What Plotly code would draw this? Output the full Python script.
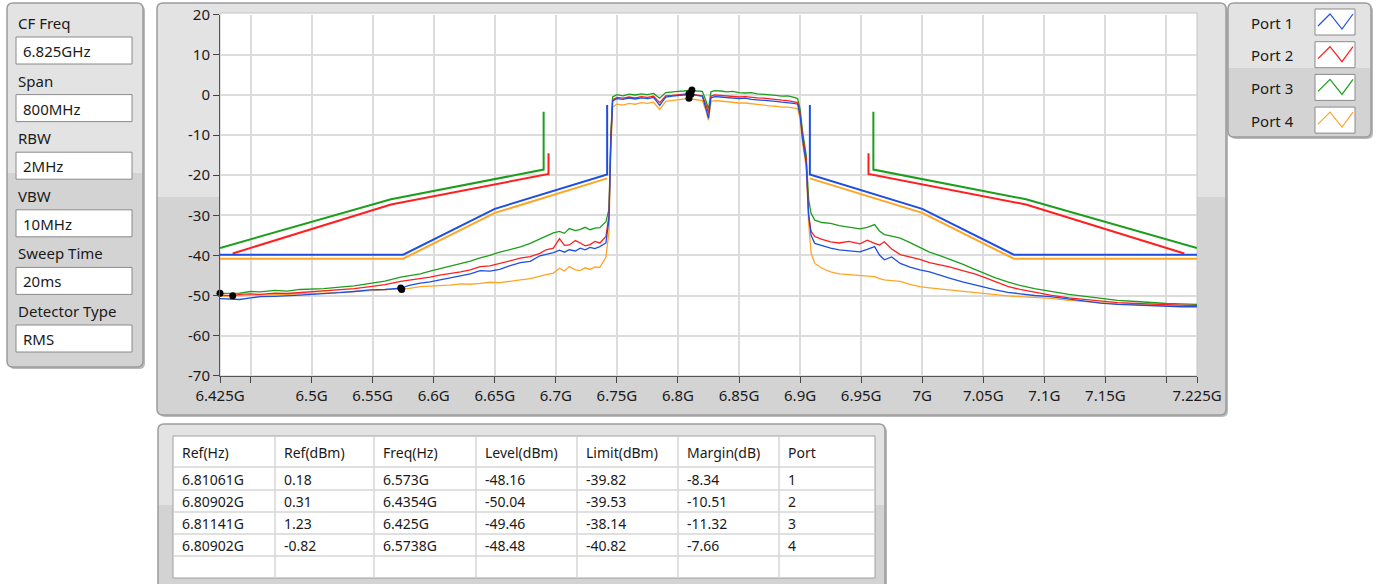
import plotly.graph_objects as go

W, H = 1376, 584

# ---------------- data ----------------
setting_names = ["CF Freq", "Span", "RBW", "VBW", "Sweep Time", "Detector Type"]
setting_values = ["6.825GHz", "800MHz", "2MHz", "10MHz", "20ms", "RMS"]

port_names = ["Port 1", "Port 2", "Port 3", "Port 4"]

x_tick_vals = [6.425, 6.45, 6.5, 6.55, 6.6, 6.65, 6.7, 6.75, 6.8, 6.85, 6.9,
               6.95, 7.0, 7.05, 7.1, 7.15, 7.2, 7.225]
x_tick_text = ["6.425G", "", "6.5G", "6.55G", "6.6G", "6.65G", "6.7G", "6.75G", "6.8G",
               "6.85G", "6.9G", "6.95G", "7G", "7.05G", "7.1G", "7.15G", "", "7.225G"]
y_tick_vals = [20, 10, 0, -10, -20, -30, -40, -50, -60, -70]
y_tick_text = ["20", "10", "0", "-10", "-20", "-30", "-40", "-50", "-60", "-70"]

# measured spectra (GHz / dBm), split in lower skirt, channel and upper skirt
left_freq = [6.425, 6.4354, 6.441, 6.45, 6.458, 6.47, 6.48, 6.4905, 6.50, 6.51, 6.523, 6.535,
             6.548, 6.56, 6.573, 6.58, 6.589, 6.597, 6.605, 6.613, 6.622, 6.63, 6.638, 6.646,
             6.654, 6.662, 6.671, 6.679, 6.687, 6.692, 6.698, 6.703, 6.707, 6.711, 6.716,
             6.720, 6.724, 6.728, 6.732, 6.736, 6.741, 6.7435, 6.745]
band_freq = [6.7465, 6.75, 6.755, 6.76, 6.765, 6.77, 6.775, 6.78, 6.785, 6.79, 6.795, 6.80,
             6.805, 6.809, 6.811, 6.815, 6.82, 6.823, 6.825, 6.827, 6.83, 6.835, 6.84, 6.845,
             6.85, 6.855, 6.86, 6.865, 6.87, 6.875, 6.88, 6.885, 6.89, 6.895, 6.898, 6.9,
             6.902, 6.905]
right_freq = [6.907, 6.909, 6.912, 6.918, 6.925, 6.932, 6.94, 6.949, 6.955, 6.961, 6.965,
              6.969, 6.975, 6.982, 6.99, 6.998, 7.006, 7.015, 7.023, 7.033, 7.043, 7.052,
              7.06, 7.07, 7.08, 7.092, 7.105, 7.12, 7.135, 7.146, 7.16, 7.175, 7.186, 7.2,
              7.212, 7.225]

p1_left = [-50.8, -50.9, -51.0, -50.6, -50.3, -50.2, -50.1, -49.9, -49.7, -49.6, -49.3, -49.0,
           -48.6, -48.5, -48.16, -47.5, -46.9, -46.6, -46.1, -45.7, -45.1, -44.6, -43.8, -43.9,
           -43.5, -42.6, -41.8, -41.5, -40.1, -39.8, -39.3, -38.7, -39.2, -38.6, -38.9, -38.2,
           -38.6, -38.0, -38.3, -37.8, -36.9, -31.0, -12.0]
p2_left = [-49.9, -50.04, -49.7, -49.6, -49.7, -49.4, -49.5, -49.3, -49.0, -48.9, -48.6, -48.3,
           -47.8, -47.3, -46.5, -46.2, -45.7, -45.4, -44.9, -44.6, -44.1, -43.6, -42.8, -42.6,
           -42.0, -41.3, -40.7, -40.3, -39.5, -38.6, -38.2, -35.8, -37.5, -37.4, -36.3, -36.9,
           -37.6, -37.3, -36.5, -36.9, -35.3, -30.0, -11.0]
p3_left = [-49.46, -49.3, -49.4, -49.0, -49.1, -48.7, -48.9, -48.5, -48.4, -48.3, -47.9, -47.6,
           -47.0, -46.4, -45.4, -45.0, -44.6, -43.9, -43.3, -42.8, -42.1, -41.4, -40.6, -40.0,
           -39.2, -38.6, -37.9, -37.0, -35.8, -35.2, -34.4, -34.0, -34.5, -33.3, -33.8, -33.5,
           -33.0, -33.6, -33.2, -33.1, -31.6, -28.5, -10.0]
p4_left = [-50.2, -50.1, -50.0, -50.0, -49.9, -49.8, -49.7, -49.7, -49.5, -49.4, -49.2, -49.0,
           -48.9, -48.7, -48.48, -48.2, -47.8, -47.7, -47.6, -47.4, -47.1, -47.2, -47.0, -46.7,
           -46.8, -46.4, -46.1, -45.8, -45.1, -44.8, -44.4, -43.2, -43.9, -42.8, -43.6, -43.8,
           -43.1, -43.5, -42.9, -43.0, -40.5, -34.0, -14.0]

p1_band = [-1.5, -0.9, -1.1, -0.8, -1.0, -0.7, -0.9, -0.6, -2.6, -0.5, -0.3, -0.2, 0.0, 0.1,
           0.18, -0.1, -0.3, -3.5, -5.8, -0.7, -0.4, -0.5, -0.6, -0.8, -0.9, -0.8, -1.1, -1.2,
           -1.3, -1.5, -1.6, -1.8, -1.9, -2.1, -2.3, -5.0, -11.0, -17.0]
p2_band = [-1.2, -0.6, -0.8, -0.5, -0.7, -0.4, -0.6, -0.3, -1.9, -0.2, -0.1, 0.1, 0.2, 0.31,
           0.2, 0.0, -0.2, -2.5, -4.5, -0.3, 0.0, -0.1, -0.2, -0.3, -0.5, -0.4, -0.6, -0.7,
           -0.8, -1.0, -1.1, -1.3, -1.4, -1.6, -1.9, -4.5, -10.0, -16.0]
p3_band = [-0.5, 0.1, -0.2, 0.2, 0.0, 0.3, 0.1, 0.4, -0.8, 0.6, 0.8, 0.9, 1.0, 1.1, 1.23,
           1.0, 0.9, -1.5, -3.5, 0.8, 1.1, 1.0, 0.8, 0.9, 0.6, 0.5, 0.6, 0.3, 0.2, 0.0, -0.1,
           -0.3, -0.2, -0.6, -0.9, -3.5, -9.0, -15.0]
p4_band = [-3.0, -2.3, -2.5, -2.1, -2.3, -1.9, -2.1, -1.8, -3.6, -1.6, -1.4, -1.2, -1.0, -0.82,
           -1.0, -1.2, -1.4, -4.0, -6.3, -1.6, -1.4, -1.5, -1.7, -1.8, -2.0, -2.0, -2.2, -2.4,
           -2.5, -2.7, -2.8, -3.0, -3.0, -3.2, -3.4, -6.0, -12.0, -18.0]

p1_right = [-30.0, -35.0, -37.0, -37.6, -38.2, -38.6, -38.9, -39.1, -38.5, -37.8, -39.9, -41.1,
            -40.4, -42.0, -42.9, -43.6, -44.1, -45.0, -45.7, -46.6, -47.4, -48.0, -48.6, -49.2,
            -49.6, -50.0, -50.3, -50.9, -51.5, -51.9, -52.2, -52.4, -52.6, -52.7, -52.8, -52.8]
p2_right = [-30.0, -34.0, -35.3, -36.0, -36.6, -36.9, -36.5, -37.1, -36.2, -37.0, -37.4, -36.6,
            -38.4, -39.8, -40.4, -41.0, -41.8, -42.3, -42.9, -43.8, -44.6, -45.6, -46.5, -47.7,
            -48.5, -49.2, -49.9, -50.6, -51.1, -51.4, -51.8, -52.0, -52.2, -52.3, -52.4, -52.5]
p3_right = [-26.0, -29.5, -31.2, -31.8, -32.0, -32.6, -32.9, -33.4, -33.0, -32.3, -33.9, -34.8,
            -35.2, -35.7, -36.8, -38.1, -39.2, -40.1, -41.0, -42.2, -43.5, -44.6, -45.6, -46.6,
            -47.5, -48.3, -49.0, -49.7, -50.3, -50.7, -51.2, -51.5, -51.8, -52.0, -52.1, -52.2]
p4_right = [-32.0, -39.4, -42.0, -43.2, -44.1, -44.6, -44.8, -44.9, -45.1, -45.3, -45.8, -46.1,
            -46.3, -46.5, -47.2, -47.8, -48.1, -48.4, -48.6, -49.0, -49.3, -49.6, -49.9, -50.1,
            -50.3, -50.5, -50.7, -51.2, -51.6, -51.9, -52.1, -52.3, -52.5, -52.6, -52.6, -52.7]

# emission masks (None splits lower / upper part)
mask1_freq = [6.425, 6.575, 6.65, 6.742, 6.742, None, 6.908, 6.908, 7.0, 7.075, 7.225]
mask1_dbm = [-39.82, -39.82, -28.4, -19.8, -2.5, None, -2.5, -19.8, -28.4, -39.82, -39.82]
mask2_freq = [6.4354, 6.565, 6.694, 6.694, None, 6.956, 6.956, 7.085, 7.2146]
mask2_dbm = [-39.53, -27.3, -19.7, -14.5, None, -14.5, -19.7, -27.3, -39.53]
mask3_freq = [6.425, 6.565, 6.69, 6.69, None, 6.96, 6.96, 7.085, 7.225]
mask3_dbm = [-38.14, -26.0, -18.6, -4.2, None, -4.2, -18.6, -26.0, -38.14]
mask4_freq = [6.425, 6.575, 6.65, 6.742, None, 6.908, 7.0, 7.075, 7.225]
mask4_dbm = [-40.82, -40.82, -29.4, -20.8, None, -20.8, -29.4, -40.82, -40.82]

# result table
table_cols = ["Ref(Hz)", "Ref(dBm)", "Freq(Hz)", "Level(dBm)", "Limit(dBm)", "Margin(dB)", "Port"]
ref_hz = ["6.81061G", "6.80902G", "6.81141G", "6.80902G"]
ref_dbm = [0.18, 0.31, 1.23, -0.82]
freq_hz = ["6.573G", "6.4354G", "6.425G", "6.5738G"]
level_dbm = [-48.16, -50.04, -49.46, -48.48]
limit_dbm = [-39.82, -39.53, -38.14, -40.82]
margin_db = [-8.34, -10.51, -11.32, -7.66]
ports = [1, 2, 3, 4]

colors = ["#1f4fe0", "#ff1f1f", "#1c9e1c", "#ffa526"]
FONT = "Noto Sans"


def px(x):
    return x / W


def py(y):
    return 1 - y / H


def rpath(x0, y0, x1, y1, rt=0, rb=0):
    """Rounded rect path in pixel coords, converted to paper coords."""
    def p(x, y):
        return f"{px(x):.5f},{py(y):.5f}"
    return (f"M{p(x0 + rt, y0)} L{p(x1 - rt, y0)} Q{p(x1, y0)} {p(x1, y0 + rt)} "
            f"L{p(x1, y1 - rb)} Q{p(x1, y1)} {p(x1 - rb, y1)} L{p(x0 + rb, y1)} "
            f"Q{p(x0, y1)} {p(x0, y1 - rb)} L{p(x0, y0 + rt)} Q{p(x0, y0)} {p(x0 + rt, y0)} Z")


shapes = []
annotations = []


def add_shape(**kw):
    kw.setdefault("xref", "paper")
    kw.setdefault("yref", "paper")
    kw.setdefault("layer", "below")
    shapes.append(kw)


def panel(x0, y0, x1, y1, split):
    add_shape(type="path", path=rpath(x0 + 2, y0 + 2, x1 + 2, y1 + 2, 6, 6),
              fillcolor="#b9b9b9", line_width=0)
    add_shape(type="path", path=rpath(x0, y0, x1, y1, 6, 6),
              fillcolor="#d3d3d3", line_width=0)
    add_shape(type="path", path=rpath(x0, y0, x1, split, 6, 0),
              fillcolor="#e3e3e3", line_width=0)
    add_shape(type="path", path=rpath(x0, y0, x1, y1, 6, 6),
              fillcolor="rgba(0,0,0,0)", line=dict(color="#9c9c9c", width=1.5))


def text(x, y, s, size=14, anchor="left"):
    annotations.append(dict(x=px(x), y=py(y), xref="paper", yref="paper", text=s,
                            showarrow=False, xanchor=anchor, yanchor="middle",
                            font=dict(family=FONT, size=size, color="#1a1a1a")))


# panels
panel(7, 3, 143, 367, 173)
panel(157, 3, 1226, 415, 197)
panel(1228, 3, 1371, 137, 68)
panel(158, 424, 885, 600, 505)

# plot area background
add_shape(type="rect", x0=px(220), x1=px(1197), y0=py(376), y1=py(13),
          fillcolor="white", line=dict(color="#c4c4c4", width=1))

# settings panel
for i, (name, val) in enumerate(zip(setting_names, setting_values)):
    ly = 23 + i * 57.6
    text(16, ly, name, size=15)
    add_shape(type="rect", x0=px(16), x1=px(132), y0=py(ly + 41), y1=py(ly + 14),
              fillcolor="white", line=dict(color="#8a8a8a", width=1))
    text(21, ly + 28, val, size=15)

# legend panel
for i, name in enumerate(port_names):
    top = 9 + i * 32.7
    text(1249, top + 13.5, name, size=15)
    add_shape(type="rect", x0=px(1315), x1=px(1355), y0=py(top + 26), y1=py(top),
              fillcolor="white", line=dict(color="#8a8a8a", width=1))
    zz = [(1318, top + 17), (1330, top + 5), (1342, top + 20), (1353, top + 5)]
    path = "M" + " L".join(f"{px(a):.5f},{py(b):.5f}" for a, b in zz)
    add_shape(type="path", path=path, line=dict(color=colors[i], width=1.2), layer="above")

# table
add_shape(type="rect", x0=px(173), x1=px(875), y0=py(578), y1=py(436),
          fillcolor="white", line=dict(color="#a0a0a0", width=1))
col_x = [173, 275, 374, 476, 577, 678, 779]
for cx in col_x[1:]:
    add_shape(type="line", x0=px(cx), x1=px(cx), y0=py(437), y1=py(577),
              line=dict(color="#d6d6d6", width=1.5))
for ry in [467, 490, 512, 534, 556]:
    add_shape(type="line", x0=px(174), x1=px(874), y0=py(ry), y1=py(ry),
              line=dict(color="#d6d6d6", width=1.5))
for cx, name in zip(col_x, table_cols):
    text(cx + 7, 452, name, size=14)
rows = zip(ref_hz, ref_dbm, freq_hz, level_dbm, limit_dbm, margin_db, ports)
for r, row in enumerate(rows):
    for cx, v in zip(col_x, row):
        s = v if isinstance(v, str) else (f"{v:.2f}" if isinstance(v, float) else str(v))
        text(cx + 7, 479 + r * 22, s, size=14)

fig = go.Figure()

masks = [(mask1_freq, mask1_dbm), (mask2_freq, mask2_dbm),
         (mask3_freq, mask3_dbm), (mask4_freq, mask4_dbm)]
for i in [3, 2, 1, 0]:
    fig.add_trace(go.Scatter(x=masks[i][0], y=masks[i][1], mode="lines",
                             line=dict(color=colors[i], width=2), showlegend=False))

traces = [(p1_left, p1_band, p1_right), (p2_left, p2_band, p2_right),
          (p3_left, p3_band, p3_right), (p4_left, p4_band, p4_right)]
freq = left_freq + band_freq + right_freq
for i in [3, 2, 1, 0]:
    lo, mid, hi = traces[i]
    fig.add_trace(go.Scatter(x=freq, y=lo + mid + hi, mode="lines",
                             line=dict(color=colors[i], width=1.3), showlegend=False))

# markers from the table
mk_x = [float(s[:-1]) for s in ref_hz] + [float(s[:-1]) for s in freq_hz]
mk_y = ref_dbm + level_dbm
fig.add_trace(go.Scatter(x=mk_x, y=mk_y, mode="markers", cliponaxis=False,
                         marker=dict(color="black", size=7), showlegend=False))

axis_common = dict(ticks="outside", ticklen=6, tickcolor="#444", showgrid=True,
                   gridcolor="#dcdcdc", gridwidth=2, zeroline=False, showline=True,
                   linecolor="#555", linewidth=1, automargin=False,
                   tickfont=dict(family=FONT, size=15, color="#1a1a1a"))

fig.update_xaxes(range=[6.425, 7.225], domain=[px(220), px(1197)],
                 tickmode="array", tickvals=x_tick_vals, ticktext=x_tick_text, **axis_common)
fig.update_yaxes(range=[-70, 20], domain=[py(375.7), py(14.8)],
                 tickmode="array", tickvals=y_tick_vals, ticktext=y_tick_text, **axis_common)

fig.update_layout(width=W, height=H, autosize=False,
                  margin=dict(l=0, r=0, t=0, b=0, pad=0, autoexpand=False),
                  paper_bgcolor="white", plot_bgcolor="white",
                  shapes=shapes, annotations=annotations, showlegend=False,
                  font=dict(family=FONT), hovermode=False)

# drop the default body margin so the figure sits at the window origin
fig.write_html("out.html", config={"displayModeBar": False},
               post_script="document.body.style.margin='0';document.body.style.overflow='hidden';")
